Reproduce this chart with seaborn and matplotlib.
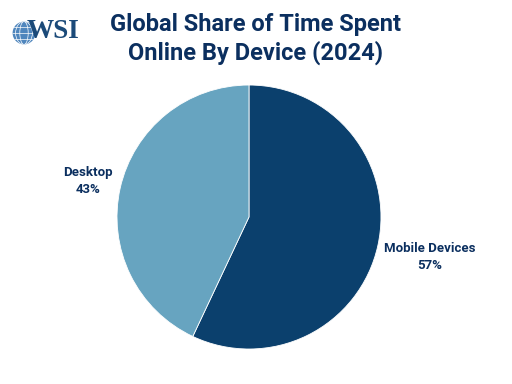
import matplotlib
matplotlib.use("Agg")
import matplotlib.pyplot as plt
import seaborn as sns
from matplotlib.patches import Circle, Ellipse

categories = ["Mobile Devices", "Desktop"]
shares = [57, 43]
title = "Global Share of Time Spent\nOnline By Device (2024)"

sns.set_theme(style="white")
plt.rcParams['font.family'] = ['Roboto', 'DejaVu Sans']

colors = sns.color_palette(["#0b406d", "#67a4c0"])
navy = "#0b2f5f"

fig = plt.figure(figsize=(5.12, 3.84), dpi=100)
fig.patch.set_facecolor("white")
ax = fig.add_axes([0.2285, 0.0911, 0.5156, 0.6875])
wedges, _ = ax.pie(shares, colors=colors, startangle=90, counterclock=False,
                   wedgeprops=dict(linewidth=0.6, edgecolor="white"))
ax.set_xlim(-1, 1)
ax.set_ylim(-1, 1)
ax.set_aspect("equal")

# labels
fig.text(0.172, 0.529, f"{categories[1]}\n{shares[1]}%", ha="center", va="center",
         fontsize=9.5, fontweight="bold", color=navy, linespacing=1.45)
fig.text(0.840, 0.331, f"{categories[0]}\n{shares[0]}%", ha="center", va="center",
         fontsize=9.5, fontweight="bold", color=navy, linespacing=1.45)

fig.text(0.5, 0.898, title, ha="center", va="center", fontsize=17,
         fontweight="bold", color=navy, linespacing=1.25)

# WSI logo: globe + serif letters
logo_ax = fig.add_axes([(24 - 12) / 512, 1 - (33 + 12) / 384, 24 / 512, 24 / 384])
logo_ax.set_xlim(-1, 1); logo_ax.set_ylim(-1, 1)
logo_ax.set_aspect("equal")
globe = Circle((0, 0), 0.95, facecolor="#4f86bd", edgecolor="none")
logo_ax.add_patch(globe)
for w in (0.35, 0.7):
    e = Ellipse((0, 0), 2 * w, 1.9, facecolor="none", edgecolor="white", lw=0.5)
    e.set_clip_path(globe)
    logo_ax.add_patch(e)
for yy in (-0.5, 0, 0.5):
    l, = logo_ax.plot([-1, 1], [yy, yy], color="white", lw=0.5)
    l.set_clip_path(globe)
logo_ax.axis("off")
fig.text(27 / 512, 1 - 31 / 384, "WSI", ha="left", va="center", fontsize=19.5,
         fontweight="bold", color="#1b4a79", family=["Liberation Serif", "DejaVu Serif"])

fig.savefig("out.png", dpi=100, facecolor="white")
